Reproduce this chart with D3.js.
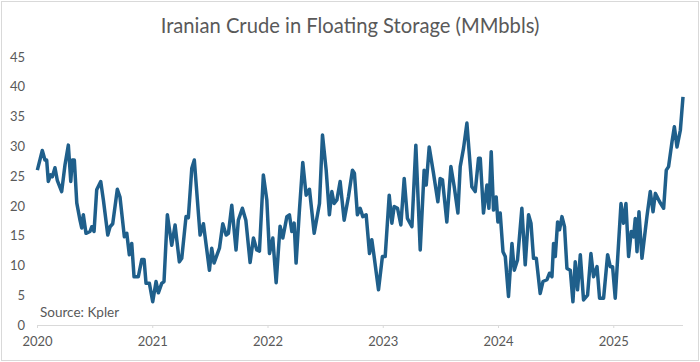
<!DOCTYPE html>
<html>
<head>
<meta charset="utf-8">
<script src="https://cdn.jsdelivr.net/npm/d3@7"></script>
<style>
  body { margin: 0; background: #fff; }
  text { font-family: Lato, "Open Sans", sans-serif; fill: #595959; }
</style>
</head>
<body>
<div id="chart"></div>
<script>
// weekly readings, x as decimal year
var years = [
  2020.003, 2020.046, 2020.069, 2020.084, 2020.098, 2020.119, 2020.133, 2020.156, 2020.176, 2020.214,
  2020.243, 2020.272, 2020.293, 2020.306, 2020.324, 2020.345, 2020.373, 2020.388, 2020.402, 2020.425,
  2020.460, 2020.475, 2020.495, 2020.518, 2020.553, 2020.576, 2020.614, 2020.634, 2020.657, 2020.697,
  2020.720, 2020.758, 2020.779, 2020.801, 2020.822, 2020.842, 2020.879, 2020.909, 2020.929, 2020.946,
  2020.975, 2021.004, 2021.033, 2021.053, 2021.082, 2021.102, 2021.131, 2021.169, 2021.198, 2021.235,
  2021.256, 2021.293, 2021.313, 2021.343, 2021.365, 2021.415, 2021.444, 2021.496, 2021.516, 2021.536,
  2021.583, 2021.612, 2021.641, 2021.661, 2021.690, 2021.727, 2021.747, 2021.782, 2021.812, 2021.849,
  2021.878, 2021.907, 2021.930, 2021.964, 2021.994, 2022.017, 2022.046, 2022.075, 2022.109, 2022.133,
  2022.168, 2022.190, 2022.211, 2022.231, 2022.248, 2022.277, 2022.306, 2022.335, 2022.364, 2022.405,
  2022.451, 2022.477, 2022.509, 2022.537, 2022.558, 2022.578, 2022.602, 2022.630, 2022.665, 2022.702,
  2022.737, 2022.754, 2022.780, 2022.804, 2022.827, 2022.856, 2022.885, 2022.905, 2022.925, 2022.963,
  2022.997, 2023.021, 2023.056, 2023.079, 2023.099, 2023.128, 2023.157, 2023.186, 2023.214, 2023.253,
  2023.287, 2023.325, 2023.359, 2023.377, 2023.403, 2023.440, 2023.478, 2023.498, 2023.518, 2023.556,
  2023.591, 2023.620, 2023.652, 2023.672, 2023.701, 2023.730, 2023.773, 2023.802, 2023.831, 2023.846,
  2023.874, 2023.904, 2023.921, 2023.941, 2023.961, 2023.984, 2023.999, 2024.019, 2024.043, 2024.063,
  2024.091, 2024.121, 2024.141, 2024.169, 2024.207, 2024.236, 2024.265, 2024.286, 2024.308, 2024.332,
  2024.366, 2024.390, 2024.425, 2024.447, 2024.468, 2024.482, 2024.497, 2024.517, 2024.534, 2024.555,
  2024.577, 2024.598, 2024.627, 2024.650, 2024.670, 2024.690, 2024.714, 2024.742, 2024.777, 2024.806,
  2024.829, 2024.859, 2024.881, 2024.916, 2024.951, 2024.974, 2024.994, 2025.017, 2025.067, 2025.089,
  2025.110, 2025.133, 2025.156, 2025.176, 2025.191, 2025.206, 2025.223, 2025.249, 2025.292, 2025.321,
  2025.345, 2025.365, 2025.402, 2025.437, 2025.460, 2025.480, 2025.510, 2025.530, 2025.553, 2025.582,
  2025.605
];
var storage = [
  26.0, 29.3, 27.7, 27.7, 24.1, 25.2, 24.9, 26.4, 24.3, 22.4,
  26.9, 30.2, 24.1, 27.7, 27.7, 20.5, 17.6, 16.3, 18.5, 15.4,
  15.7, 16.5, 15.7, 22.7, 24.1, 21.0, 15.1, 16.5, 17.0, 22.8,
  21.5, 14.8, 15.4, 11.8, 13.7, 8.1, 8.1, 11.0, 11.0, 7.0,
  7.0, 3.9, 7.3, 5.4, 7.0, 7.3, 18.5, 13.4, 16.8, 10.6,
  11.2, 18.2, 18.0, 26.3, 27.7, 15.1, 17.0, 9.2, 12.9, 10.4,
  12.9, 17.0, 15.1, 15.4, 20.1, 12.6, 17.6, 19.6, 17.6, 10.5,
  14.6, 12.6, 12.4, 25.2, 21.0, 12.0, 14.6, 7.1, 16.6, 14.6,
  18.2, 18.5, 15.7, 17.1, 10.4, 19.3, 27.3, 21.8, 22.8, 15.4,
  20.4, 31.9, 26.0, 18.5, 22.4, 20.4, 21.0, 24.1, 17.6, 21.5,
  26.0, 25.5, 18.5, 19.6, 18.2, 18.5, 12.0, 14.3, 11.5, 5.9,
  11.5, 11.5, 21.8, 17.1, 19.9, 19.6, 16.8, 24.6, 17.9, 16.5,
  30.2, 12.6, 26.0, 23.5, 29.9, 25.5, 20.7, 24.6, 24.4, 17.3,
  26.6, 23.2, 18.8, 26.6, 29.7, 33.9, 23.2, 22.4, 28.0, 28.0,
  18.8, 23.5, 19.6, 29.1, 19.3, 21.5, 17.3, 18.8, 12.3, 11.5,
  4.8, 13.7, 9.2, 10.9, 19.6, 10.1, 18.5, 17.1, 11.2, 11.2,
  5.3, 7.3, 7.6, 8.7, 8.1, 13.7, 11.5, 17.3, 16.0, 18.2,
  16.5, 9.5, 9.2, 3.9, 10.6, 5.9, 11.8, 4.2, 5.0, 12.0,
  8.1, 9.8, 4.5, 4.5, 11.8, 9.8, 9.8, 4.5, 20.4, 17.1,
  20.4, 11.5, 15.7, 14.8, 17.9, 12.3, 19.0, 11.2, 18.2, 22.4,
  19.0, 22.1, 20.7, 19.6, 26.0, 26.6, 30.8, 33.3, 29.9, 32.7,
  38.3
];
var yTicks = [0, 5, 10, 15, 20, 25, 30, 35, 40, 45];
var xTicks = [2020, 2021, 2022, 2023, 2024, 2025];

var W = 700, H = 362;
var margin = {top: 57, right: 17, bottom: 37, left: 37},
    width = W - margin.left - margin.right,
    height = H - margin.top - margin.bottom;

var root = d3.select("#chart").append("svg")
    .attr("width", W)
    .attr("height", H);

// outer chart border
root.append("rect")
    .attr("x", 1.5).attr("y", 1.5)
    .attr("width", W - 3).attr("height", H - 3)
    .attr("fill", "#fff")
    .attr("stroke", "#d9d9d9");

root.append("text")
    .attr("x", W / 2)
    .attr("y", 33)
    .attr("text-anchor", "middle")
    .style("font-size", "20.2px")
    .text("Iranian Crude in Floating Storage (MMbbls)");

var svg = root.append("g")
    .attr("transform", "translate(" + margin.left + "," + margin.top + ")");

// axis stops at the last weekly reading
var x = d3.scaleLinear()
    .domain([2020, 2025.605])
    .range([0, width]);

var y = d3.scaleLinear()
    .domain([0, 45])
    .range([height, 0]);

// y axis labels, no line
var yAxis = svg.append("g")
    .call(d3.axisLeft(y).tickValues(yTicks).tickSize(0).tickPadding(12));
yAxis.select(".domain").remove();
yAxis.selectAll("text")
    .style("font-size", "13px")
    .style("fill", "#595959")
    .style("font-family", "Lato, 'Open Sans', sans-serif");

// x axis
var xAxis = svg.append("g")
    .attr("transform", "translate(0," + height + ")")
    .call(d3.axisBottom(x).tickValues(xTicks).tickFormat(d3.format("d")).tickSize(3).tickPadding(9));
xAxis.select(".domain")
    .attr("d", "M0,0.5H" + width)
    .attr("stroke", "#d9d9d9");
xAxis.selectAll(".tick line").attr("stroke", "#d9d9d9");
xAxis.selectAll("text")
    .style("font-size", "13px")
    .style("fill", "#595959")
    .style("font-family", "Lato, 'Open Sans', sans-serif");

var line = d3.line()
    .x(function(d, i) { return x(years[i]); })
    .y(function(d) { return y(d); });

svg.append("path")
    .datum(storage)
    .attr("fill", "none")
    .attr("stroke", "#1f5f8b")
    .attr("stroke-width", 3.5)
    .attr("stroke-linejoin", "round")
    .attr("d", line);

svg.append("text")
    .attr("x", 3)
    .attr("y", height - 8)
    .style("font-size", "13.5px")
    .text("Source: Kpler");
</script>
</body>
</html>
